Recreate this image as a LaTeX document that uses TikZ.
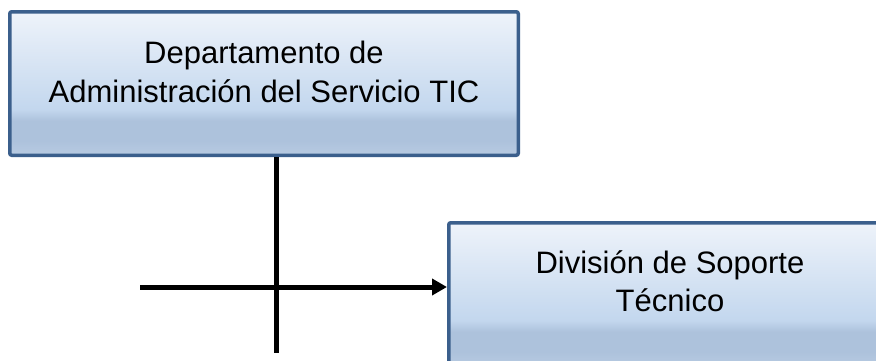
\documentclass[tikz,border=0pt]{standalone}
\usepackage{fontspec}
\setmainfont{Liberation Sans}
\usetikzlibrary{arrows.meta, positioning, calc}
\definecolor{BordeAzul}{HTML}{3B5F8C}
\definecolor{FondoClaro}{HTML}{EEF3FA}
\definecolor{FondoMedio}{HTML}{C3D7EE}
\definecolor{FondoBanda}{HTML}{ADC2DC}
\definecolor{FondoBajo}{HTML}{B8CBE2}
\pgfdeclareverticalshading{cajaoffice}{100bp}{color(0bp)=(FondoBajo); color(25bp)=(FondoBajo);
  color(30bp)=(FondoBanda); color(37bp)=(FondoBanda); color(41bp)=(FondoMedio);
  color(75bp)=(FondoClaro); color(100bp)=(FondoClaro)}

\begin{document}
\begin{tikzpicture}[
    x=1pt, y=-1pt,
    caja/.style={draw=BordeAzul, line width=3.5pt, rounded corners=2pt, shading=cajaoffice,
        inner sep=0pt, align=center, text height=60pt,
        font=\fontsize{31}{38.7}\selectfont},
    linea/.style={line width=5pt, black},
    flecha/.style={linea, -{Triangle[length=15pt, width=16pt]}},
]
\useasboundingbox (0,0) rectangle (876,360);

% departamento (arriba)
\node[caja, minimum width=508.5pt, minimum height=143.5pt, text depth=23pt]
    (dep) at (264,83.5) {Departamento de\\Administración del Servicio TIC};

% division (abajo, cortada por el borde)
\node[caja, minimum width=442.5pt, minimum height=143.5pt, text depth=25.6pt]
    (div) at (670,294.5) {División de Soporte\\Técnico};

% conexiones
\coordinate (baja) at (276,353);
\coordinate (ini) at (140,287);
\draw[linea] (dep.south -| baja) -- (baja);
\draw[flecha] (ini) -- (ini -| div.west);

\end{tikzpicture}
\end{document}
